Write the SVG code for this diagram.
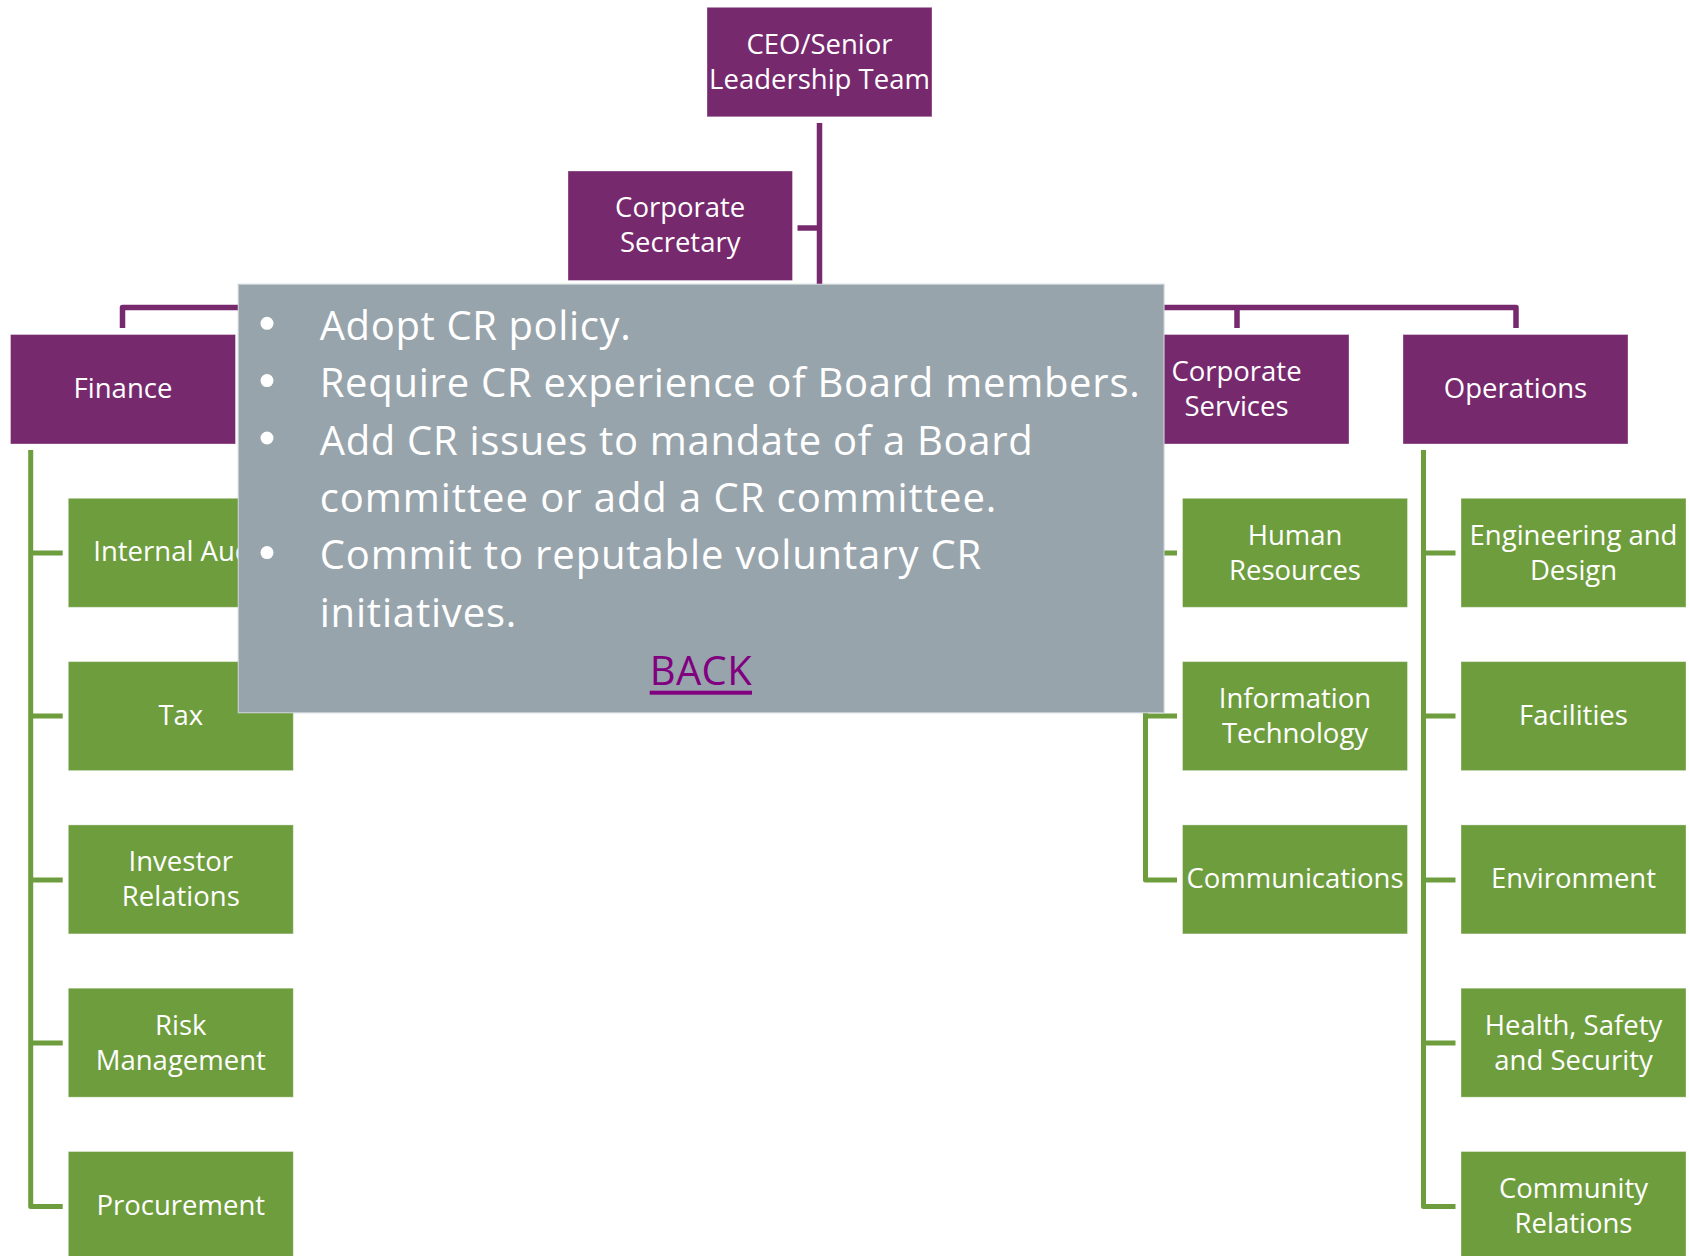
<svg xmlns="http://www.w3.org/2000/svg" width="1690" height="1256" viewBox="0 0 1690 1256">
<style>
.p{fill:#77296E;stroke:#ffffff;stroke-opacity:0.35;stroke-width:1}
.g{fill:#6E9D3E;stroke:#ffffff;stroke-opacity:0.35;stroke-width:1}
.t{font-family:"Open Sans","Liberation Sans",sans-serif;font-size:27.5px;fill:#ffffff;text-anchor:middle}
.pl{fill:none;stroke:#77296E;stroke-width:5.5;stroke-linejoin:round}
.gl{fill:none;stroke:#6E9D3E;stroke-width:5;stroke-linejoin:round}
.b{font-family:"Open Sans","Liberation Sans",sans-serif;font-size:40px;fill:#ffffff}
</style>
<rect width="1690" height="1256" fill="#ffffff"/>
<g id="connectors">
<path class="pl" d="M819.5,123 V307.5"/>
<path class="pl" d="M797.5,228 H819.5"/>
<path class="pl" d="M122.5,328 V307.5 H1516 V328"/>
<path class="pl" d="M1237,307.5 V328"/>
<path class="gl" d="M30.7,450 V1206.5 H62.7 M30.7,553 H62.7 M30.7,716 H62.7 M30.7,880 H62.7 M30.7,1043 H62.7"/>
<path class="gl" d="M1145.5,450 V880 H1177 M1145.5,553 H1177 M1145.5,716 H1177"/>
<path class="gl" d="M1423.5,450 V1206.5 H1455.5 M1423.5,553 H1455.5 M1423.5,716 H1455.5 M1423.5,880 H1455.5 M1423.5,1043 H1455.5"/>
</g>
<g id="ceo"><rect class="p" x="707" y="7.3" width="225" height="109.5"/><text class="t" x="819.5" y="54">CEO/Senior</text><text class="t" x="819.5" y="89">Leadership Team</text></g>
<g id="corp-secretary"><rect class="p" x="568" y="171" width="224.5" height="109.5"/><text class="t" x="680.2" y="216.7">Corporate</text><text class="t" x="680.2" y="251.7">Secretary</text></g>
<g id="finance"><rect class="p" x="10.5" y="334.5" width="225" height="109.5"/><text class="t" x="123" y="397.5">Finance</text></g>
<g id="corp-services"><rect class="p" x="1124" y="334.5" width="225" height="109.5"/><text class="t" x="1236.5" y="380.5">Corporate</text><text class="t" x="1236.5" y="415.5">Services</text></g>
<g id="operations"><rect class="p" x="1403" y="334.5" width="225" height="109.5"/><text class="t" x="1515.5" y="397.5">Operations</text></g>
<g id="internal-audit"><rect class="g" x="68.3" y="498.3" width="225" height="109"/><text class="t" x="180.8" y="561.3">Internal Audit</text></g>
<g id="tax"><rect class="g" x="68.3" y="661.6" width="225" height="109"/><text class="t" x="180.8" y="724.8">Tax</text></g>
<g id="investor-relations"><rect class="g" x="68.3" y="824.9" width="225" height="109"/><text class="t" x="180.8" y="871.4">Investor</text><text class="t" x="180.8" y="906.4">Relations</text></g>
<g id="risk-management"><rect class="g" x="68.3" y="988.2" width="225" height="109"/><text class="t" x="180.8" y="1034.7">Risk</text><text class="t" x="180.8" y="1069.7">Management</text></g>
<g id="procurement"><rect class="g" x="68.3" y="1151.5" width="225" height="109"/><text class="t" x="180.8" y="1214.5">Procurement</text></g>
<g id="human-resources"><rect class="g" x="1182.5" y="498.3" width="225" height="109"/><text class="t" x="1295" y="544.8">Human</text><text class="t" x="1295" y="579.8">Resources</text></g>
<g id="information-technology"><rect class="g" x="1182.5" y="661.6" width="225" height="109"/><text class="t" x="1295" y="708.1">Information</text><text class="t" x="1295" y="743.1">Technology</text></g>
<g id="communications"><rect class="g" x="1182.5" y="824.9" width="225" height="109"/><text class="t" x="1295" y="888">Communications</text></g>
<g id="engineering-design"><rect class="g" x="1461" y="498.3" width="225" height="109"/><text class="t" x="1573.5" y="544.8">Engineering and</text><text class="t" x="1573.5" y="579.8">Design</text></g>
<g id="facilities"><rect class="g" x="1461" y="661.6" width="225" height="109"/><text class="t" x="1573.5" y="724.8">Facilities</text></g>
<g id="environment"><rect class="g" x="1461" y="824.9" width="225" height="109"/><text class="t" x="1573.5" y="888">Environment</text></g>
<g id="health-safety-security"><rect class="g" x="1461" y="988.2" width="225" height="109"/><text class="t" x="1573.5" y="1034.7">Health, Safety</text><text class="t" x="1573.5" y="1069.7">and Security</text></g>
<g id="community-relations"><rect class="g" x="1461" y="1151.5" width="225" height="109"/><text class="t" x="1573.5" y="1198">Community</text><text class="t" x="1573.5" y="1233">Relations</text></g>
<g id="cr-overlay">
<rect x="238.3" y="284.3" width="925.7" height="428.4" fill="#98A4AC" stroke="#C8CFD3" stroke-width="1.2"/>
<circle cx="267" cy="323.3" r="6.5" fill="#ffffff"/>
<circle cx="267" cy="380.6" r="6.5" fill="#ffffff"/>
<circle cx="267" cy="438" r="6.5" fill="#ffffff"/>
<circle cx="267" cy="552.6" r="6.5" fill="#ffffff"/>
<text class="b" x="319.7" y="340" textLength="311">Adopt CR policy.</text>
<text class="b" x="319.7" y="397.3" textLength="820">Require CR experience of Board members.</text>
<text class="b" x="319.7" y="454.7" textLength="713">Add CR issues to mandate of a Board</text>
<text class="b" x="319.7" y="512" textLength="676.6">committee or add a CR committee.</text>
<text class="b" x="319.7" y="569.3" textLength="661.6">Commit to reputable voluntary CR</text>
<text class="b" x="319.7" y="626.7" textLength="196.6">initiatives.</text>
<text x="649.7" y="685" textLength="102" font-family="'Open Sans','Liberation Sans',sans-serif" font-size="40" fill="#800080">BACK</text>
<rect x="649.7" y="690.7" width="102.3" height="4" fill="#800080"/>
</g>
</svg>
